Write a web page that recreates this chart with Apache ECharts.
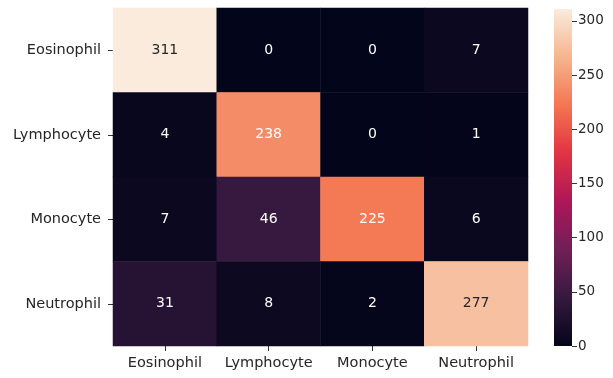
<!DOCTYPE html>
<html>
<head>
<meta charset="utf-8">
<script src="https://cdn.jsdelivr.net/npm/echarts@6/dist/echarts.min.js"></script>
<style>
  html, body { margin: 0; padding: 0; background: #ffffff; }
  #chart { width: 613px; height: 378px; }
</style>
</head>
<body>
<div id="chart"></div>
<script>
// Confusion matrix: rows = true class, columns = predicted class
const classLabels = ['Eosinophil', 'Lymphocyte', 'Monocyte', 'Neutrophil'];
const rowEosinophil = [311, 0, 0, 7];
const rowLymphocyte = [4, 238, 0, 1];
const rowMonocyte   = [7, 46, 225, 6];
const rowNeutrophil = [31, 8, 2, 277];
const colorbarTicks = [0, 50, 100, 150, 200, 250, 300];

// "rocket" colormap, evenly spaced stops from low to high
const rocketStops = ['#03051a', '#35193e', '#701f57', '#ad1759', '#e13342', '#f37651', '#f6b48f', '#faebdd'];

const matrix = [rowEosinophil, rowLymphocyte, rowMonocyte, rowNeutrophil];
const vmin = 0;
const vmax = Math.max(...matrix.flat());

function hexToRgb(h) {
  return [parseInt(h.slice(1, 3), 16), parseInt(h.slice(3, 5), 16), parseInt(h.slice(5, 7), 16)];
}
function colorAt(v) {
  const t = Math.min(1, Math.max(0, (v - vmin) / (vmax - vmin))) * (rocketStops.length - 1);
  const i = Math.min(rocketStops.length - 2, Math.floor(t));
  const f = t - i;
  const a = hexToRgb(rocketStops[i]), b = hexToRgb(rocketStops[i + 1]);
  return a.map((c, k) => c + (b[k] - c) * f);
}
function luminance(rgb) {
  const lin = rgb.map(c => {
    c /= 255;
    return c <= 0.03928 ? c / 12.92 : Math.pow((c + 0.055) / 1.055, 2.4);
  });
  return 0.2126 * lin[0] + 0.7152 * lin[1] + 0.0722 * lin[2];
}

// annotation colour follows the cell brightness: dark text on light cells, white on dark
const cells = [];
matrix.forEach((row, r) => {
  row.forEach((v, c) => {
    const textColor = luminance(colorAt(v)) > 0.408 ? '#262626' : '#ffffff';
    cells.push({ value: [c, r, v], label: { color: textColor } });
  });
});

const fontFamily = 'DejaVu Sans';
const textColor = '#262626';

const chart = echarts.init(document.getElementById('chart'), null, { renderer: 'canvas' });
chart.setOption({
  backgroundColor: '#ffffff',
  animation: false,
  textStyle: { fontFamily: fontFamily },
  grid: [
    { left: 113, right: 85, top: 8, bottom: 32 },
    { left: 554, width: 18, top: 9, height: 337 }
  ],
  xAxis: [
    {
      gridIndex: 0,
      type: 'category',
      data: classLabels,
      axisLine: { show: false },
      axisTick: { show: true, alignWithLabel: true, length: 5, lineStyle: { color: '#333' } },
      axisLabel: { color: textColor, fontSize: 14.5, margin: 10, interval: 0, fontFamily: fontFamily },
      splitLine: { show: false }
    },
    {
      gridIndex: 1,
      type: 'category',
      data: [''],
      show: false
    }
  ],
  yAxis: [
    {
      gridIndex: 0,
      type: 'category',
      data: classLabels,
      inverse: true,
      axisLine: { show: false },
      axisTick: { show: true, alignWithLabel: true, length: 5, lineStyle: { color: '#333' } },
      axisLabel: { color: textColor, fontSize: 14.5, margin: 12, interval: 0, fontFamily: fontFamily },
      splitLine: { show: false }
    },
    {
      gridIndex: 1,
      type: 'value',
      position: 'right',
      min: vmin,
      max: vmax,
      axisLine: { show: false },
      axisTick: { show: true, length: 5, customValues: colorbarTicks, lineStyle: { color: '#333' } },
      axisLabel: { color: textColor, fontSize: 13.5, margin: 6, customValues: colorbarTicks, fontFamily: fontFamily },
      splitLine: { show: false }
    }
  ],
  visualMap: {
    show: false,
    seriesIndex: 0,
    min: vmin,
    max: vmax,
    inRange: { color: rocketStops }
  },
  series: [
    {
      type: 'heatmap',
      xAxisIndex: 0,
      yAxisIndex: 0,
      data: cells,
      label: { show: true, fontSize: 14, fontFamily: fontFamily },
      itemStyle: { borderWidth: 0 },
      emphasis: { disabled: true }
    },
    {
      // colour bar drawn as a single full-height bar on its own value axis
      type: 'bar',
      xAxisIndex: 1,
      yAxisIndex: 1,
      data: [vmax],
      barWidth: '100%',
      silent: true,
      itemStyle: {
        color: new echarts.graphic.LinearGradient(0, 1, 0, 0,
          rocketStops.map((c, i) => ({ offset: i / (rocketStops.length - 1), color: c })))
      }
    }
  ]
});
</script>
</body>
</html>
